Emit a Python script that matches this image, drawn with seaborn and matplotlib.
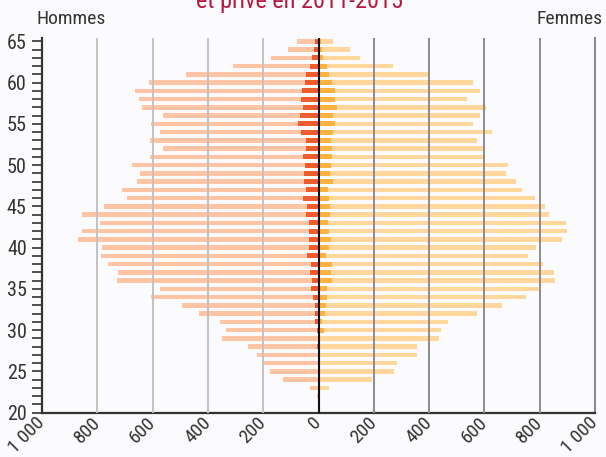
import numpy as np
import pandas as pd
import seaborn as sns
import matplotlib
matplotlib.use("Agg")
import matplotlib.pyplot as plt
from matplotlib import font_manager as fm
from matplotlib.ticker import MultipleLocator, FuncFormatter

# ---- data ----
ages = list(range(65, 21, -1))  # 65 .. 22

men_total = [77, 112, 171, 309, 479, 612, 662, 649, 638, 562, 605, 574, 610, 564, 611, 674,
             646, 655, 709, 693, 774, 855, 791, 854, 870, 783, 786, 762, 726, 728, 572,
             607, 493, 432, 356, 334, 350, 254, 221, 197, 175, 129, 30, 7]
men_sub = [11, 17, 23, 29, 45, 48, 59, 63, 57, 66, 74, 63, 47, 45, 55, 48,
           52, 54, 45, 55, 40, 47, 35, 36, 35, 34, 41, 26, 30, 24, 28,
           19, 14, 11, 11, 7, 2, 6, 2, 1, 0, 0, 0, 0]
women_total = [54, 115, 150, 269, 397, 559, 584, 538, 606, 583, 557, 627, 572, 599, 603, 684,
               677, 714, 735, 783, 819, 832, 896, 897, 882, 785, 758, 812, 853, 856, 798,
               749, 662, 573, 467, 444, 436, 356, 355, 283, 273, 194, 38, 3]
women_sub = [8, 12, 16, 30, 37, 48, 59, 59, 66, 52, 59, 52, 45, 48, 48, 45,
             41, 52, 34, 37, 41, 41, 34, 37, 45, 37, 26, 48, 45, 48, 30,
             30, 26, 23, 11, 19, 5, 5, 0, 0, 0, 0, 0, 0]

x_ticks = list(range(-1000, 1001, 200))
label_left = "Hommes"
label_right = "Femmes"
title_line = "et privé en 2011-2015"

# ---- style ----
BG = "#fbfbfd"
C_MEN_L = "#ffc4a3"
C_MEN_D = "#f25b2c"
C_WOM_L = "#ffd79c"
C_WOM_D = "#fdb240"
TXT = "#333333"

sns.set_theme(style="white")


def pick_font():
    for fam, stretch, narrow in [("Roboto Condensed", "normal", True),
                                 ("Liberation Sans Narrow", "normal", True),
                                 ("Roboto", "normal", False)]:
        try:
            fm.findfont(fm.FontProperties(family=fam, stretch=stretch),
                        fallback_to_default=False)
            return fam, narrow
        except Exception:
            continue
    return "DejaVu Sans", False


FAM, NARROW = pick_font()
plt.rcParams["font.family"] = [FAM, "DejaVu Sans"]
k = 1.0 if NARROW else 0.88  # shrink a wide font to keep the reference text widths

fig = plt.figure(figsize=(6.06, 4.57), dpi=100, facecolor=BG)
W, H = 606, 457
left, right, top, bottom = 42, 595, 38, 412.7
ax = fig.add_axes([left / W, 1 - bottom / H, (right - left) / W, (bottom - top) / H])
ax.set_facecolor(BG)

df = pd.DataFrame({
    "age": ages,
    "men_total": [-v for v in men_total],
    "men_sub": [-v for v in men_sub],
    "women_total": women_total,
    "women_sub": women_sub,
})

for col, color, w in [("men_total", C_MEN_L, 0.55), ("women_total", C_WOM_L, 0.55),
                      ("men_sub", C_MEN_D, 0.6), ("women_sub", C_WOM_D, 0.6)]:
    sns.barplot(data=df, x=col, y="age", orient="y", native_scale=True,
                color=color, saturation=1, width=w, linewidth=0,
                errorbar=None, ax=ax)

ax.set_xlim(-1000, 1000)
ax.set_ylim(20, 65.4)
ax.set_xlabel("")
ax.set_ylabel("")

# x axis
ax.set_xticks(x_ticks)
ax.xaxis.set_major_formatter(FuncFormatter(
    lambda v, p: "1 000" if abs(round(v)) == 1000 else f"{abs(int(round(v)))}"))
ax.tick_params(axis="x", length=0, pad=5, labelsize=14 * k, labelcolor=TXT)
for lab in ax.get_xticklabels():
    lab.set_rotation(45)
    lab.set_ha("right")
    lab.set_va("center")
    lab.set_rotation_mode("anchor")

# grid lines above light bars
ax.set_axisbelow(False)
ax.grid(axis="x", linewidth=1.4)
ax.grid(axis="y", visible=False)
for gl, v in zip(ax.get_xgridlines(), x_ticks):
    if v < 0:
        gl.set_color("#c2c2c2")
    elif v > 0:
        gl.set_color("#8c8c8c")
    if v in (0, 1000, -1000):
        gl.set_visible(False)

# y axis
ax.yaxis.set_major_locator(MultipleLocator(5))
ax.yaxis.set_minor_locator(MultipleLocator(1))
ax.yaxis.set_major_formatter(FuncFormatter(lambda v, p: f"{int(round(v))}"))
ax.tick_params(axis="y", which="both", direction="out", length=7, width=1.2,
               color=TXT, left=True, labelsize=14.5 * k, labelcolor=TXT, pad=4)

ax.spines["top"].set_visible(False)
ax.spines["left"].set_color(TXT)
ax.spines["left"].set_linewidth(1.6)
ax.spines["bottom"].set_color(TXT)
ax.spines["bottom"].set_linewidth(1.6)
ax.spines["right"].set_color("#8c8c8c")
ax.spines["right"].set_linewidth(1.5)

ax.axvline(0, color="#111111", linewidth=1.5, zorder=5)

fig.text(36 / W, 1 - 18.5 / H, label_left, ha="left", va="center", fontsize=14 * k, color=TXT)
fig.text(603 / W, 1 - 18.5 / H, label_right, ha="right", va="center", fontsize=14 * k, color=TXT)
fig.text(299.5 / W, 1 - 8 / H, title_line, ha="center", va="baseline",
         fontsize=17.5 * k, color="#b5173f")

fig.savefig("out.png", dpi=100, facecolor=BG)
